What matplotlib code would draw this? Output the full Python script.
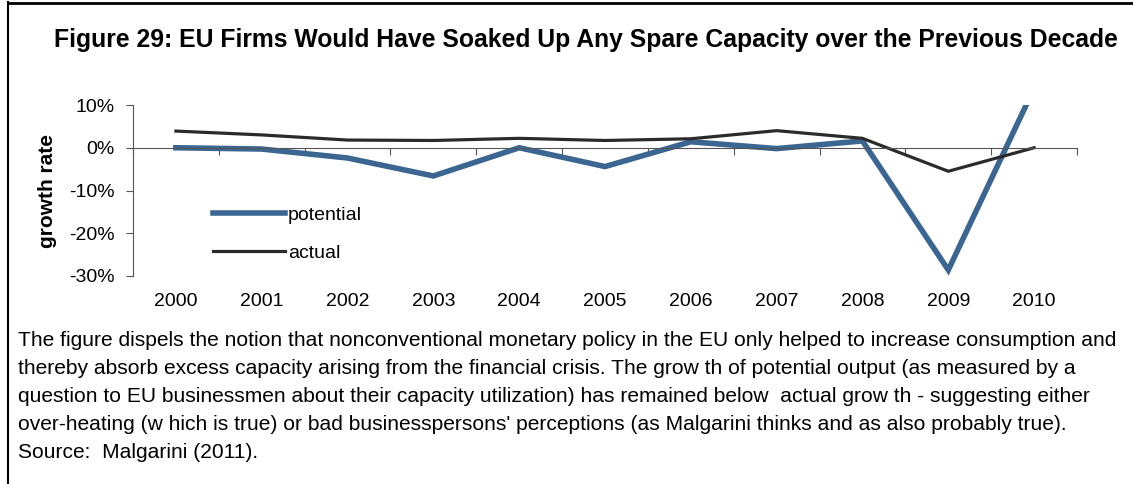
import matplotlib
matplotlib.use("Agg")
import matplotlib.pyplot as plt
import matplotlib.transforms as mtransforms
from matplotlib.lines import Line2D

plt.rcParams['font.family'] = ['Liberation Sans', 'DejaVu Sans']

years = ["2000", "2001", "2002", "2003", "2004", "2005", "2006", "2007", "2008", "2009", "2010"]
potential = [0.0, -0.3, -2.4, -6.6, 0.0, -4.4, 1.4, -0.2, 1.6, -28.6, 13.9]
actual = [3.9, 3.0, 1.8, 1.7, 2.2, 1.7, 2.1, 4.0, 2.2, -5.5, 0.0]
yticks = [10, 0, -10, -20, -30]

title = "Figure 29: EU Firms Would Have Soaked Up Any Spare Capacity over the Previous Decade"
caption = [
    "The figure dispels the notion that nonconventional monetary policy in the EU only helped to increase consumption and",
    "thereby absorb excess capacity arising from the financial crisis. The grow th of potential output (as measured by a",
    "question to EU businessmen about their capacity utilization) has remained below  actual grow th - suggesting either",
    "over-heating (w hich is true) or bad businesspersons' perceptions (as Malgarini thinks and as also probably true).",
    "Source:  Malgarini (2011).",
]

W, H = 1133, 484
fig = plt.figure(figsize=(W / 100, H / 100), dpi=100)

# frame around the figure (top and left only visible)
fig.add_artist(Line2D([8 / W, 8 / W], [0, 1 - 2 / H], color="black", lw=1.5))
fig.add_artist(Line2D([8 / W, 1], [1 - 2.5 / H, 1 - 2.5 / H], color="black", lw=2))

fig.text(586 / W, 1 - 40 / H, title, ha="center", va="center", fontsize=17.8, fontweight="bold")

ax = fig.add_axes([133 / W, 1 - 276 / H, (1077 - 133) / W, (276 - 105) / H])
x = list(range(len(years)))
ax.plot(x, potential, color="#3b6691", lw=4.0, label="potential", solid_joinstyle="miter")
ax.plot(x, actual, color="#2b2b2b", lw=2.3, label="actual")
ax.set_xlim(-0.5, len(years) - 0.5)
ax.set_ylim(-30, 10)

ax.spines["top"].set_visible(False)
ax.spines["right"].set_visible(False)
ax.spines["bottom"].set_position(("data", 0))
ax.spines["bottom"].set_color("#555555")
ax.spines["left"].set_color("#555555")
ax.set_xticks([i - 0.5 for i in range(len(years) + 1)])
ax.set_xticklabels([])
ax.tick_params(axis="x", direction="out", length=5, color="#555555")
ax.set_yticks(yticks)
ax.set_yticklabels([f"{v}%" for v in yticks], fontsize=14)
ax.tick_params(axis="y", direction="out", length=5, color="#555555", pad=8)

trans = mtransforms.blended_transform_factory(ax.transData, ax.transAxes)
for i, yr in enumerate(years):
    ax.text(i, -0.15, yr, transform=trans, ha="center", va="center", fontsize=14)

ax.set_ylabel("growth rate", fontsize=15, fontweight="bold")
ax.yaxis.set_label_coords((57 - 133) / 944, 0.5)

ax.legend(loc="upper left", bbox_to_anchor=((213 - 133) / 944, 0.41), frameon=False,
          fontsize=14, handlelength=3.7, handletextpad=0.15, labelspacing=1.05,
          borderpad=0, borderaxespad=0)

for k, line in enumerate(caption):
    fig.text(18 / W, 1 - (340 + 28 * k) / H, line, ha="left", va="center", fontsize=15.1)

fig.savefig("out.png", dpi=100)
